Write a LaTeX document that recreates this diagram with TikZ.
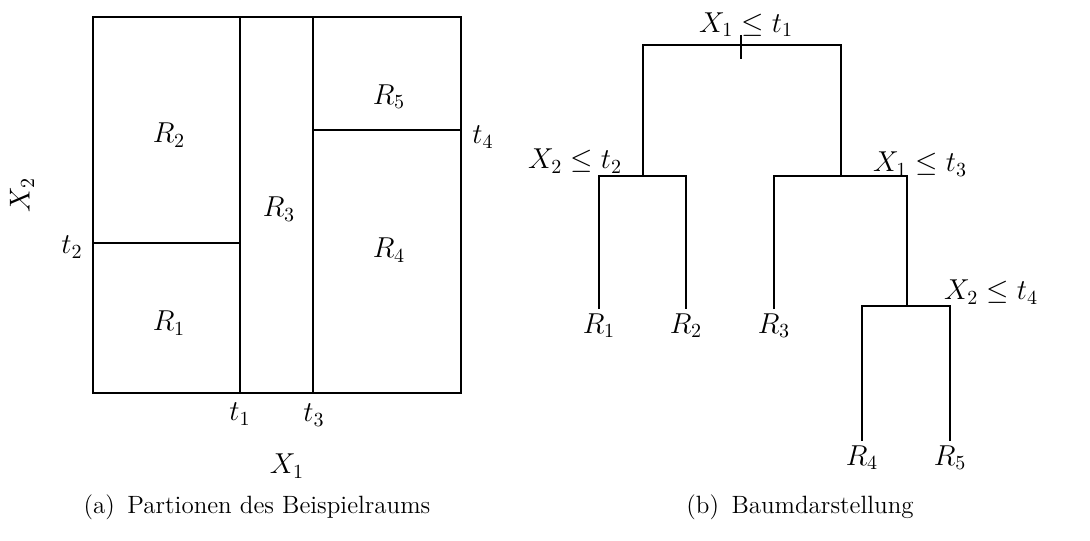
\documentclass[tikz,border=0pt]{standalone}
\usetikzlibrary{positioning}

\tikzset{
  lbl/.style={font=\fontsize{14.5}{17}\selectfont},
  leaf/.style={lbl, anchor=north, inner sep=2pt},
  capt/.style={font=\fontsize{12.5}{15}\selectfont}
}

\begin{document}
\begin{tikzpicture}[x=0.5pt,y=-0.5pt,line width=0.9pt]
\useasboundingbox (0,0) rectangle (1090,540);

% (a) Partitionen
\draw (93,17) rectangle (461,393);
\draw (240,17) -- (240,393);
\draw (313,17) -- (313,393);
\draw (93,243) -- (241,243);
\draw (313,130) -- (461,130);
\node[lbl] (reg1) at (169,323) {$R_1$};
\node[lbl] (reg2) at (169,135) {$R_2$};
\node[lbl] (reg3) at (279,209) {$R_3$};
\node[lbl] (reg4) at (389,250) {$R_4$};
\node[lbl] (reg5) at (389,97)  {$R_5$};
\node[lbl] (tt1) at (240,414) {$t_1$};
\node[lbl] (tt2) at (72,247)  {$t_2$};
\node[lbl] (tt3) at (314,415) {$t_3$};
\node[lbl] (tt4) at (483,137) {$t_4$};
\node[lbl] (xa1) at (287,466) {$X_1$};
\node[lbl, rotate=90] (xa2) at (22,195) {$X_2$};
\node[capt] (capa) at (257,507) {(a)\enspace Partionen des Beispielraums};

% (b) Baum
\coordinate (root) at (741,45);
\coordinate (sp2) at (643,176);
\coordinate (sp3) at (841,176);
\coordinate (sp4) at (907,306);
\node[leaf] (leaf1) at (599,309) {$R_1$};
\node[leaf] (leaf2) at (686,309) {$R_2$};
\node[leaf] (leaf3) at (774,309) {$R_3$};
\node[leaf] (leaf4) at (862,441) {$R_4$};
\node[leaf] (leaf5) at (950,441) {$R_5$};
\node[lbl] (split1) at (746,25)  {$X_1 \leq t_1$};
\node[lbl] (split2) at (575,161) {$X_2 \leq t_2$};
\node[lbl] (split3) at (920,164) {$X_1 \leq t_3$};
\node[lbl] (split4) at (991,292) {$X_2 \leq t_4$};

\draw (sp2) -- (sp2 |- root) -- (sp3 |- root) -- (sp3);
\draw (root) ++(0,-10) -- ++(0,24);
\draw (leaf1.north) -- (leaf1.north |- sp2) -- (leaf2.north |- sp2) -- (leaf2.north);
\draw (leaf3.north) -- (leaf3.north |- sp3) -- (sp4 |- sp3) -- (sp4);
\draw (leaf4.north) -- (leaf4.north |- sp4) -- (leaf5.north |- sp4) -- (leaf5.north);

\node[capt] (capb) at (800,507) {(b)\enspace Baumdarstellung};
\end{tikzpicture}
\end{document}
